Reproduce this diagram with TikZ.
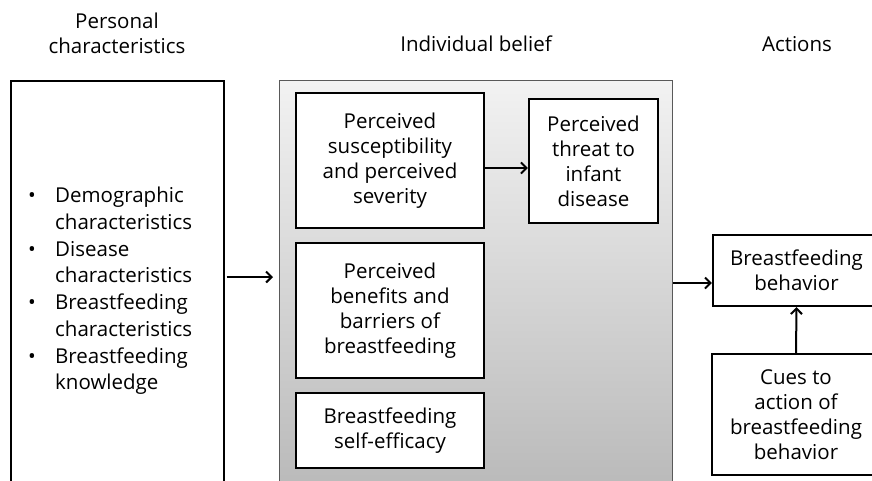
\documentclass[tikz,border=0pt]{standalone}
\usepackage{fontspec}
\setmainfont{Open Sans}
\usetikzlibrary{arrows.meta,calc}
\begin{document}
\begin{tikzpicture}[x=1pt,y=-1pt,
  font=\fontsize{20.5}{25}\selectfont,
  box/.style={draw=black,line width=2.2pt,fill=white,align=center,inner sep=0pt,text=black},
  arr/.style={line width=2pt,-{Straight Barb[length=5.5pt,width=11pt,line width=2pt]}},
  hdr/.style={align=center,inner sep=0pt,text=black}]
\useasboundingbox (0,0) rectangle (872,480);
\clip (0,0) rectangle (872,480);
\fill[white] (0,0) rectangle (872,480);

% headers
\node[hdr,anchor=north] (h1) at (117,13) {Personal\\characteristics};
\node[hdr,anchor=base] (h2) at (476,51) {Individual belief};
\node[hdr,anchor=base] (h3) at (797,51) {Actions};

% outer boxes
\node[box,minimum width=213,minimum height=440,anchor=north west] (pc) at (9.5,80) {};
\node[draw=gray!70!black,line width=1pt,top color=gray!10,bottom color=gray!58,
      minimum width=393,minimum height=440,anchor=north west,inner sep=0pt] (ib) at (279,80) {};

% list
\node[anchor=north west,inner sep=0pt,align=left,text=black] (lst) at (28,184)
 {\fontsize{20.5}{26.7}\selectfont
  \begin{tabular}{@{}p{27pt}@{}l@{}}
  • & Demographic\\
    & characteristics\\
  • & Disease\\
    & characteristics\\
  • & Breastfeeding\\
    & characteristics\\
  • & Breastfeeding\\
    & knowledge
  \end{tabular}};

% inner boxes
\node[box,minimum width=188,minimum height=135] (ps) at (390,160.5) {Perceived\\susceptibility\\and perceived\\severity};
\node[box,minimum width=129,minimum height=124] (pt) at (593.5,161) {Perceived\\threat to\\infant\\disease};
\node[box,minimum width=188,minimum height=135] (pb) at (390,310.5) {Perceived\\benefits and\\barriers of\\breastfeeding};
\node[box,minimum width=188,minimum height=75] (se) at (390,430.5) {Breastfeeding\\self-efficacy};

% action boxes
\node[box,minimum width=167,minimum height=71] (bf) at (796.5,270.5) {Breastfeeding\\behavior};
\node[box,minimum width=168,minimum height=121] (cue) at (796,414.5) {Cues to\\action of\\breastfeeding\\behavior};

% arrows
\coordinate (a1) at (0,277);
\coordinate (a2) at (0,168);
\coordinate (a3) at (0,283);
\draw[arr,shorten <=2pt,shorten >=6pt] (pc.east |- a1) -- (ib.west |- a1);
\draw[arr] (ps.east |- a2) -- (pt.west |- a2);
\draw[arr] (ib.east |- a3) -- (bf.west |- a3);
\draw[arr] (cue.north) -- (bf.south);
\end{tikzpicture}
\end{document}
